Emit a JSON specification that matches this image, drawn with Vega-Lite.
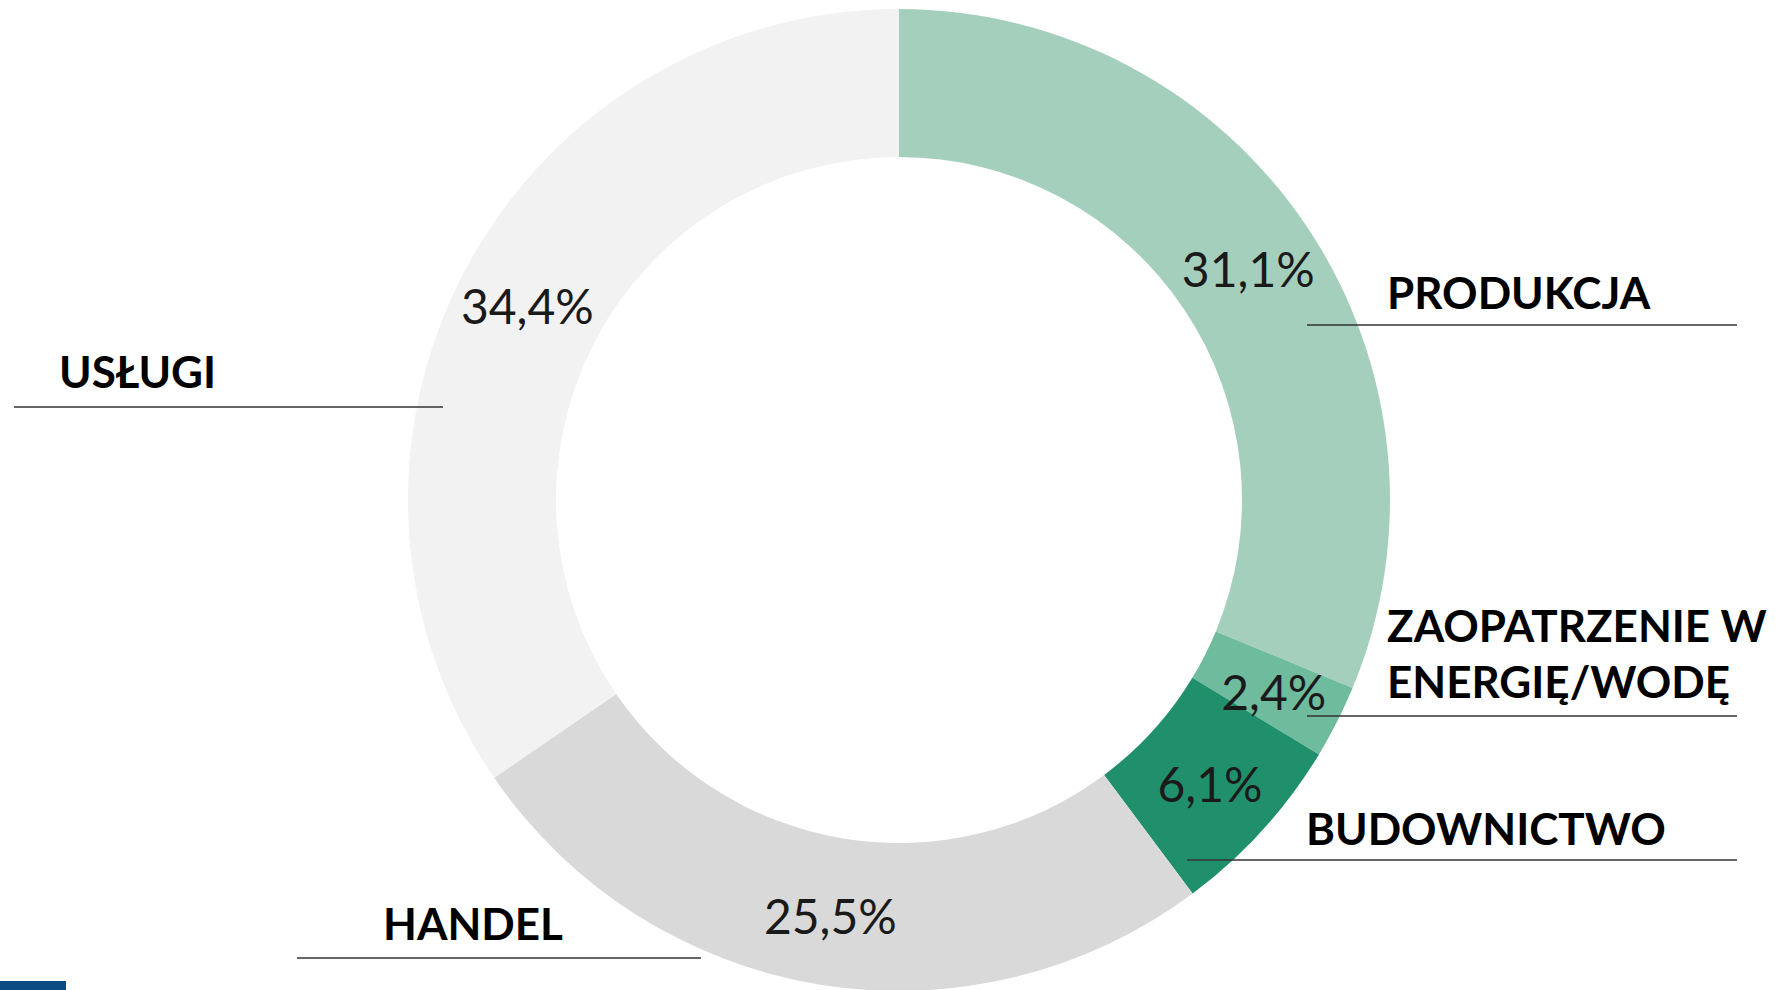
{
  "$schema": "https://vega.github.io/schema/vega-lite/v6.json",
  "autosize": {"type": "none"},
  "width": 1766,
  "height": 980,
  "padding": {"left": 16, "top": 10, "right": 0, "bottom": 0},
  "background": "white",
  "config": {"view": {"stroke": null}},
  "datasets": {
    "shares": [
      {"sector": "PRODUKCJA", "share": 31.1, "label": "31,1%", "order": 1},
      {"sector": "ZAOPATRZENIE W ENERGIĘ/WODĘ", "share": 2.4, "label": "2,4%", "order": 2},
      {"sector": "BUDOWNICTWO", "share": 6.1, "label": "6,1%", "order": 3},
      {"sector": "HANDEL", "share": 25.5, "label": "25,5%", "order": 4},
      {"sector": "USŁUGI", "share": 34.4, "label": "34,4%", "order": 5}
    ],
    "names": [
      {"text": "PRODUKCJA", "x": 1371, "y": 299},
      {"text": "ZAOPATRZENIE W", "x": 1371, "y": 632},
      {"text": "ENERGIĘ/WODĘ", "x": 1371, "y": 688},
      {"text": "BUDOWNICTWO", "x": 1290, "y": 835},
      {"text": "HANDEL", "x": 367, "y": 930},
      {"text": "USŁUGI", "x": 43, "y": 378}
    ],
    "leaders": [
      {"x": 1291, "x2": 1721, "y": 315},
      {"x": 1291, "x2": 1721, "y": 706},
      {"x": 1171, "x2": 1721, "y": 850},
      {"x": 281, "x2": 685, "y": 948},
      {"x": -2, "x2": 427, "y": 397}
    ],
    "badge": [
      {"x": -16, "x2": 50, "y": 971, "y2": 980}
    ]
  },
  "layer": [
    {
      "data": {"name": "shares"},
      "mark": {"type": "arc", "outerRadius": 491, "innerRadius": 343},
      "encoding": {
        "theta": {"field": "share", "type": "quantitative", "stack": true},
        "order": {"field": "order", "type": "quantitative"},
        "color": {
          "field": "sector",
          "type": "nominal",
          "legend": null,
          "scale": {
            "domain": ["PRODUKCJA", "ZAOPATRZENIE W ENERGIĘ/WODĘ", "BUDOWNICTWO", "HANDEL", "USŁUGI"],
            "range": ["#a5cfbd", "#6fbb9e", "#20906c", "#d9d9d9", "#f2f2f2"]
          }
        }
      }
    },
    {
      "data": {"name": "shares"},
      "mark": {"type": "text", "radius": 420, "dy": 6, "font": "Lato", "fontSize": 48, "fontWeight": "normal", "color": "#1a1a1a", "align": "center", "baseline": "middle"},
      "encoding": {
        "theta": {"field": "share", "type": "quantitative", "stack": true},
        "order": {"field": "order", "type": "quantitative"},
        "text": {"field": "label", "type": "nominal"}
      }
    },
    {
      "data": {"name": "leaders"},
      "mark": {"type": "rule", "color": "#333333", "strokeWidth": 1.5, "clip": false},
      "encoding": {
        "x": {"field": "x", "type": "quantitative", "axis": null, "scale": {"domain": [0, 1766], "nice": false, "zero": false}},
        "x2": {"field": "x2"},
        "y": {"field": "y", "type": "quantitative", "axis": null, "scale": {"domain": [0, 980], "nice": false, "zero": false, "reverse": true}}
      }
    },
    {
      "data": {"name": "names"},
      "mark": {"type": "text", "font": "Lato", "fontSize": 44, "fontWeight": "bold", "color": "#000000", "align": "left", "baseline": "alphabetic", "clip": false},
      "encoding": {
        "x": {"field": "x", "type": "quantitative", "axis": null, "scale": {"domain": [0, 1766], "nice": false, "zero": false}},
        "y": {"field": "y", "type": "quantitative", "axis": null, "scale": {"domain": [0, 980], "nice": false, "zero": false, "reverse": true}},
        "text": {"field": "text", "type": "nominal"}
      }
    },
    {
      "data": {"name": "badge"},
      "mark": {"type": "rect", "color": "#0b4c82", "clip": false},
      "encoding": {
        "x": {"field": "x", "type": "quantitative", "axis": null, "scale": {"domain": [0, 1766], "nice": false, "zero": false}},
        "x2": {"field": "x2"},
        "y": {"field": "y", "type": "quantitative", "axis": null, "scale": {"domain": [0, 980], "nice": false, "zero": false, "reverse": true}},
        "y2": {"field": "y2"}
      }
    }
  ]
}
